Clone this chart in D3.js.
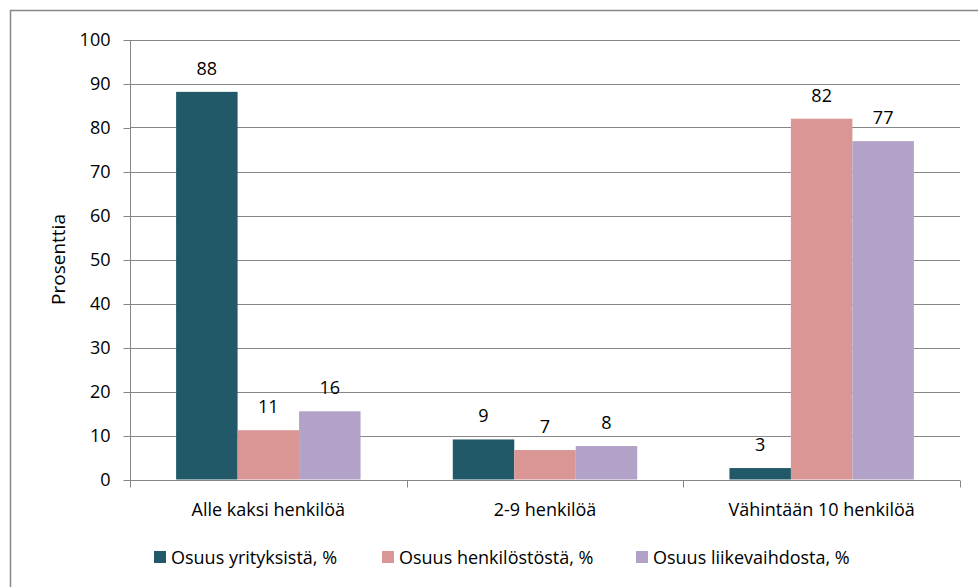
<!DOCTYPE html>
<html>
<head>
<meta charset="utf-8">
<script src="https://cdn.jsdelivr.net/npm/d3@7"></script>
<style>
  body { margin: 0; background: #fff; }
  text { font-family: "Open Sans", sans-serif; fill: #000; }
</style>
</head>
<body>
<div id="chart"></div>
<script>
// categories and series
const categories = ["Alle kaksi henkilöä", "2-9 henkilöä", "Vähintään 10 henkilöä"];
const seriesNames = ["Osuus yrityksistä, %", "Osuus henkilöstöstä, %", "Osuus liikevaihdosta, %"];
const colors = ["#215968", "#D99694", "#B3A2C7"];
const yritykset = [88.1, 9.1, 2.6];
const henkilosto = [11.2, 6.7, 82.0];
const liikevaihto = [15.5, 7.6, 76.9];
const yTicks = [0, 10, 20, 30, 40, 50, 60, 70, 80, 90, 100];

const series = [yritykset, henkilosto, liikevaihto];

const width = 978, height = 587;
const margin = {left: 130, right: 18, top: 39.5, bottom: 107.5};

let svg = d3.select("#chart").append("svg")
  .attr("width", width)
  .attr("height", height);

// outer frame of the chart
svg.append("rect")
  .attr("x", 10.5)
  .attr("y", 10.5)
  .attr("width", width)
  .attr("height", height)
  .attr("fill", "none")
  .attr("stroke", "#868686")
  .attr("stroke-width", 1.5);

let x = d3.scaleBand()
  .domain(categories)
  .range([margin.left, width - margin.right]);

let x1 = d3.scaleBand()
  .domain(d3.range(series.length))
  .range([0, x.bandwidth()])
  .paddingInner(0)
  .paddingOuter(0.75);

let y = d3.scaleLinear()
  .domain([0, 100])
  .range([height - margin.bottom, margin.top]);

// gridlines
svg.append("g")
  .selectAll("line")
  .data(yTicks)
  .join("line")
  .attr("x1", margin.left)
  .attr("x2", width - margin.right)
  .attr("y1", d => Math.round(y(d)) + 0.5)
  .attr("y2", d => Math.round(y(d)) + 0.5)
  .attr("stroke", "#868686");

// y axis
let yAxis = svg.append("g")
  .attr("transform", `translate(${margin.left + 0.5},0.5)`)
  .call(d3.axisLeft(y).tickValues(yTicks).tickSize(7).tickPadding(13));
yAxis.select(".domain").attr("stroke", "#868686").attr("d", `M0,${y(100)}V${y(0)}`);
yAxis.selectAll(".tick line").attr("stroke", "#868686");
yAxis.selectAll(".tick text")
  .style("font-family", "'Open Sans', sans-serif")
  .style("font-size", "18px")
  .attr("fill", "#000");

// x axis
let xAxis = svg.append("g")
  .attr("transform", `translate(0,${Math.round(y(0)) + 0.5})`);
xAxis.append("line")
  .attr("x1", margin.left)
  .attr("x2", width - margin.right)
  .attr("stroke", "#868686");
xAxis.selectAll(".sep")
  .data([...categories.map(c => x(c)), width - margin.right])
  .join("line")
  .attr("class", "sep")
  .attr("x1", d => Math.round(d) + 0.5)
  .attr("x2", d => Math.round(d) + 0.5)
  .attr("y1", 0)
  .attr("y2", 7)
  .attr("stroke", "#868686");
xAxis.selectAll(".cat")
  .data(categories)
  .join("text")
  .attr("class", "cat")
  .attr("x", d => x(d) + x.bandwidth() / 2)
  .attr("y", 35)
  .attr("text-anchor", "middle")
  .style("font-size", "18px")
  .text(d => d);

// bars
series.forEach((vals, s) => {
  let g = svg.append("g");
  g.selectAll("rect")
    .data(vals)
    .join("rect")
    .attr("x", (d, i) => x(categories[i]) + x1(s))
    .attr("width", x1.bandwidth())
    .attr("y", d => y(d))
    .attr("height", d => y(0) - y(d))
    .attr("fill", colors[s]);
  g.selectAll("text")
    .data(vals)
    .join("text")
    .attr("x", (d, i) => x(categories[i]) + x1(s) + x1.bandwidth() / 2)
    .attr("y", d => y(d) - 17)
    .attr("text-anchor", "middle")
    .style("font-size", "18px")
    .text(d => d3.format(".0f")(d));
});

// y axis title
svg.append("text")
  .attr("transform", `translate(65,${(y(0) + y(100)) / 2}) rotate(-90)`)
  .attr("text-anchor", "middle")
  .style("font-size", "19px")
  .text("Prosenttia");

// legend
const legendX = [154, 382, 636];
let legend = svg.append("g");
seriesNames.forEach((name, i) => {
  legend.append("rect")
    .attr("x", legendX[i])
    .attr("y", 551)
    .attr("width", 12)
    .attr("height", 12)
    .attr("fill", colors[i]);
  legend.append("text")
    .attr("x", legendX[i] + 17)
    .attr("y", 564)
    .style("font-size", "18px")
    .text(name);
});
</script>
</body>
</html>
